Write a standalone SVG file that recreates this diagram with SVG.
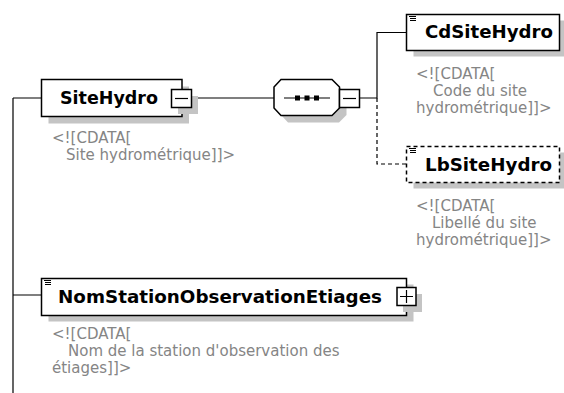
<svg xmlns="http://www.w3.org/2000/svg" width="564" height="393" viewBox="0 0 564 393">
<style>
.bg{fill:#ffffff}
.box{fill:#ffffff;stroke:#000000;stroke-width:1.5}
.dbox{fill:#ffffff;stroke:#000000;stroke-width:1.5;stroke-dasharray:4 3}
.sh{fill:#c4c4c4;stroke:none}
.ln{fill:none;stroke:#000000;stroke-width:1.2}
.dl{fill:none;stroke:#000000;stroke-width:1.2;stroke-dasharray:4 3}
.tb{font-family:"DejaVu Sans",Verdana,sans-serif;font-weight:bold;font-size:17px;fill:#000000}
.an{font-family:"DejaVu Sans",Verdana,sans-serif;font-size:15px;fill:#858585}
.ic{fill:none;stroke:#000000;stroke-width:1}
</style>
<rect class="bg" x="0" y="0" width="564" height="393"/>
<g id="connectors">
<path class="ln" d="M13 98 V393 M13 98 H41.5 M13 295 H41.5"/>
<path class="ln" d="M192 98 H274"/>
<path class="ln" d="M359 98 H377 V32.5 H406.5"/>
<path class="dl" d="M377 98 V164 H406.5"/>
</g>
<g id="SiteHydro">
<rect class="sh" x="48.5" y="86.5" width="140.5" height="37"/>
<rect class="box" x="41.5" y="79.5" width="140.5" height="37"/>
<rect class="sh" x="178" y="96" width="20" height="18"/>
<rect class="box" x="171.5" y="89.5" width="20" height="18"/>
<path class="ln" d="M175 98.5 H188"/>
<text class="tb" x="60" y="104" textLength="98" lengthAdjust="spacingAndGlyphs">SiteHydro</text>
<text class="an" x="52" y="143">&lt;![CDATA[</text>
<text class="an" x="66" y="160">Site hydrométrique]]&gt;</text>
</g>
<g id="sequence">
<polygon class="sh" points="288,86.5 339,86.5 346.5,94 346.5,115 339,122.5 288,122.5 281,115 281,94"/>
<polygon class="box" points="281,79.5 332,79.5 339.5,87 339.5,108 332,115.5 281,115.5 274,108 274,87"/>
<path class="ln" d="M284 98 H330"/>
<rect x="295" y="95.5" width="5" height="5" fill="#000"/>
<rect x="304.5" y="95.5" width="5" height="5" fill="#000"/>
<rect x="314" y="95.5" width="5" height="5" fill="#000"/>
<rect class="box" x="339.5" y="89.5" width="20" height="18"/>
<path class="ln" d="M343 98.5 H356"/>
</g>
<g id="CdSiteHydro">
<rect class="sh" x="413.5" y="20.5" width="160" height="36"/>
<rect class="box" x="406.5" y="14.5" width="153" height="36"/>
<path class="ic" d="M409 16.5 H416 M410 18.5 H416 M410 20.5 H416"/>
<text class="tb" x="425" y="37.5" textLength="128" lengthAdjust="spacingAndGlyphs">CdSiteHydro</text>
<text class="an" x="416" y="79">&lt;![CDATA[</text>
<text class="an" x="433" y="96">Code du site</text>
<text class="an" x="416" y="113">hydrométrique]]&gt;</text>
</g>
<g id="LbSiteHydro">
<rect class="sh" x="413.5" y="152.5" width="160" height="36"/>
<rect class="dbox" x="406.5" y="146.5" width="153" height="36"/>
<path class="ic" d="M409 148.5 H416 M410 150.5 H416 M410 152.5 H416"/>
<text class="tb" x="425" y="170.5" textLength="127" lengthAdjust="spacingAndGlyphs">LbSiteHydro</text>
<text class="an" x="416" y="211">&lt;![CDATA[</text>
<text class="an" x="432" y="228">Libellé du site</text>
<text class="an" x="416" y="245">hydrométrique]]&gt;</text>
</g>
<g id="NomStationObservationEtiages">
<rect class="sh" x="48.5" y="284.5" width="365" height="37"/>
<rect class="box" x="41.5" y="278.5" width="365" height="37"/>
<rect class="sh" x="403" y="294" width="19" height="18"/>
<rect class="box" x="397" y="287.5" width="19" height="18"/>
<path class="ln" d="M400 296.5 H413 M406.5 290 V303"/>
<path class="ic" d="M44 280.5 H51 M45 282.5 H51 M45 284.5 H51"/>
<text class="tb" x="58" y="302.5" textLength="324" lengthAdjust="spacingAndGlyphs">NomStationObservationEtiages</text>
<text class="an" x="52" y="339">&lt;![CDATA[</text>
<text class="an" x="68" y="356">Nom de la station d'observation des</text>
<text class="an" x="52" y="373">étiages]]&gt;</text>
</g>
</svg>
